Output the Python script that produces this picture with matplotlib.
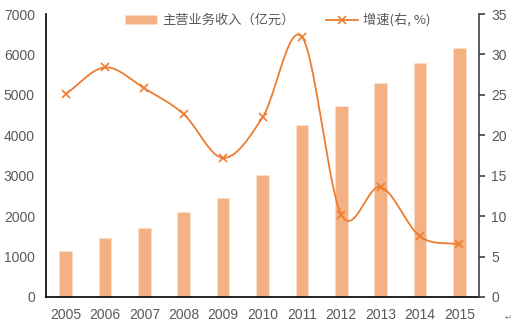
import numpy as np
import matplotlib
matplotlib.use('Agg')
import matplotlib.pyplot as plt

years = ['2005', '2006', '2007', '2008', '2009', '2010', '2011', '2012', '2013', '2014', '2015']
revenue = [1130, 1450, 1715, 2110, 2460, 3020, 4255, 4730, 5290, 5785, 6170]
growth = [25.1, 28.4, 25.8, 22.6, 17.2, 22.2, 32.2, 10.2, 13.6, 7.5, 6.5]

bar_color = '#F4B183'
line_color = '#ED7D31'
text_color = '#595959'
num_font = ['Liberation Sans', 'DejaVu Sans']
plt.rcParams['font.family'] = ['Noto Sans CJK SC', 'DejaVu Sans']


def catmull_rom(x, y, n=30):
    # smooth curve through the data points, like Excel's smoothed line
    x = np.asarray(x, float)
    y = np.asarray(y, float)
    px = np.concatenate([[2 * x[0] - x[1]], x, [2 * x[-1] - x[-2]]])
    py = np.concatenate([[2 * y[0] - y[1]], y, [2 * y[-1] - y[-2]]])
    xs, ys = [], []
    t = np.linspace(0, 1, n)
    for i in range(1, len(px) - 2):
        for p, out in ((px, xs), (py, ys)):
            p0, p1, p2, p3 = p[i - 1], p[i], p[i + 1], p[i + 2]
            out.extend(0.5 * ((2 * p1) + (-p0 + p2) * t
                              + (2 * p0 - 5 * p1 + 4 * p2 - p3) * t ** 2
                              + (-p0 + 3 * p1 - 3 * p2 + p3) * t ** 3))
    return np.array(xs), np.array(ys)


fig = plt.figure(figsize=(5.14, 3.28), dpi=100)
ax = fig.add_axes([46 / 514, 31 / 328, 433 / 514, 283 / 328])
x = np.arange(len(years))
bars = ax.bar(x, revenue, width=0.32, color=bar_color, edgecolor='#FBE0CC', linewidth=0.6, zorder=2)
ax.set_xlim(-0.5, len(years) - 0.5)
ax.set_ylim(0, 7000)
ax.set_yticks(range(0, 7001, 1000))
ax.set_xticks(x)
ax.set_xticklabels(years)

ax2 = ax.twinx()
sx, sy = catmull_rom(x, growth)
ax2.plot(sx, sy, color=line_color, lw=1.3, zorder=3)
ax2.plot(x, growth, ls='none', marker='x', ms=6, mew=1.2, color=line_color, zorder=4)
ax2.set_ylim(0, 35)
ax2.set_yticks(range(0, 36, 5))

for a in (ax, ax2):
    a.spines['top'].set_visible(False)
    for lab in a.get_xticklabels() + a.get_yticklabels():
        lab.set_family(num_font)
        lab.set_fontsize(10)
        lab.set_color(text_color)
ax.spines['left'].set_linewidth(1.2)
ax.spines['bottom'].set_linewidth(1.2)
ax.spines['right'].set_visible(False)
ax2.spines['left'].set_visible(False)
ax2.spines['bottom'].set_visible(False)
ax2.spines['right'].set_linewidth(1.2)
ax2.spines['right'].set_color('#404040')
ax.tick_params(axis='x', length=0, pad=8)
ax.tick_params(axis='y', length=0, pad=8)
ax2.tick_params(axis='y', length=4, width=1.2, color='#404040', pad=5)

h2, = ax2.plot([], [], color=line_color, lw=1.3, marker='x', ms=6, mew=1.2)
ax2.legend([bars, h2], ['主营业务收入（亿元）', '增速(右, %)'], ncol=2, frameon=False,
           loc='upper center', bbox_to_anchor=(0.535, 1.045), fontsize=9.5,
           handlelength=2.4, handleheight=0.6, columnspacing=2.4, handletextpad=0.4,
           labelcolor=text_color)

fig.text(505 / 514, 8 / 328, '↵', fontsize=6, color='#808080', family='DejaVu Sans')
fig.savefig('out.png', dpi=100)
